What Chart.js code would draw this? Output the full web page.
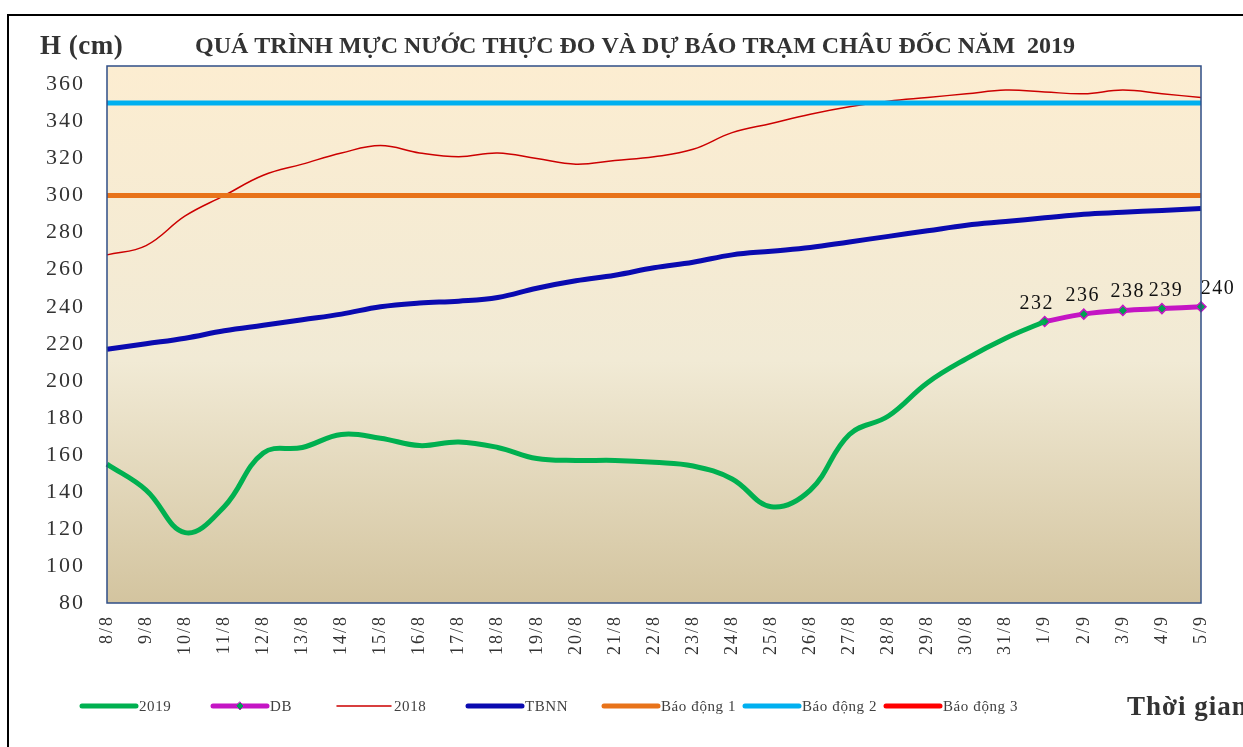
<!DOCTYPE html>
<html>
<head>
<meta charset="utf-8">
<script src="https://cdn.jsdelivr.net/npm/chart.js@4.4.0/dist/chart.umd.min.js"></script>
<style>
  html, body { margin: 0; padding: 0; background: #fff; overflow: hidden; }
</style>
</head>
<body>
<canvas id="myChart" width="1243" height="747"></canvas>
<script>
//////////////////// Data ////////////////////
const dayLabels = ['8/8', '9/8', '10/8', '11/8', '12/8', '13/8', '14/8', '15/8', '16/8', '17/8',
  '18/8', '19/8', '20/8', '21/8', '22/8', '23/8', '24/8', '25/8', '26/8', '27/8', '28/8', '29/8',
  '30/8', '31/8', '1/9', '2/9', '3/9', '4/9', '5/9'];

// measured water level 2019 (cm)
const level2019 = [155, 141, 118, 132, 161, 164, 171, 169, 165, 167, 164, 158, 157,
  157, 156, 154, 147, 132, 141, 171, 181, 199, 212, 223, 232, null, null, null, null];

// forecast (DB)
const forecastDB = [null, null, null, null, null, null, null, null, null, null, null, null, null,
  null, null, null, null, null, null, null, null, null, null, null, 232, 236, 238, 239, 240];

// same period 2018
const level2018 = [268, 273, 289, 300, 311, 317, 323, 327, 323, 321, 323, 320, 317,
  319, 321, 325, 334, 339, 344, 348, 351, 353, 355, 357, 356, 355, 357, 355, 353];

// multi-year average (TBNN)
const levelTBNN = [217, 220, 223, 227, 230, 233, 236, 240, 242, 243, 245, 250, 254,
  257, 261, 264, 268, 270, 272, 275, 278, 281, 284, 286, 288, 290, 291, 292, 293];

// alarm levels 1, 2, 3
const alarmLevels = [300, 350, 400];

// y axis tick labels
const yTicks = [80, 100, 120, 140, 160, 180, 200, 220, 240, 260, 280, 300, 320, 340, 360];
/////////////////////////////////////////////////////////////////////

const serif = '"Liberation Serif", "Times New Roman", serif';
const ctx1 = document.getElementById('myChart').getContext('2d');

const data = {
  labels: dayLabels,
  datasets: [{
    label: '2019',
    data: level2019,
    borderColor: '#00B050',
    borderWidth: 5,
    pointRadius: 0,
    tension: 0.4,
    order: 0
  }, {
    label: 'DB',
    data: forecastDB,
    borderColor: '#C415C4',
    borderWidth: 5,
    pointStyle: 'rectRot',
    pointRadius: 5,
    pointBackgroundColor: '#00A050',
    pointBorderColor: '#C415C4',
    pointBorderWidth: 1.5,
    tension: 0.4,
    order: 0
  }, {
    label: '2018',
    data: level2018,
    borderColor: '#CC0000',
    borderWidth: 1.5,
    pointRadius: 0,
    tension: 0.4,
    order: 3
  }, {
    label: 'TBNN',
    data: levelTBNN,
    borderColor: '#0A0AB0',
    borderWidth: 5,
    pointRadius: 0,
    tension: 0.4,
    order: 1
  }, {
    label: 'Báo động 1',
    data: dayLabels.map(() => alarmLevels[0]),
    borderColor: '#E8731A',
    borderWidth: 5,
    pointRadius: 0,
    order: 1
  }, {
    label: 'Báo động 2',
    data: dayLabels.map(() => alarmLevels[1]),
    borderColor: '#00B0F0',
    borderWidth: 5,
    pointRadius: 0,
    order: 1
  }, {
    label: 'Báo động 3',
    data: dayLabels.map(() => alarmLevels[2]),
    borderColor: '#FF0000',
    borderWidth: 5,
    pointRadius: 0,
    order: 1
  }]
};

///////////// Background, frame, titles, labels, legend ///////////////
const decorations = {
  id: 'decorations',
  beforeDraw(chart) {
    // Excel-like loose letter spacing for the axis labels
    chart.ctx.letterSpacing = '2px';
  },
  beforeDatasetsDraw(chart) {
    const { ctx, chartArea: { left, top, width, height, bottom } } = chart;
    const grad = ctx.createLinearGradient(0, top, 0, bottom);
    grad.addColorStop(0, '#FCEDD1');
    grad.addColorStop(0.55, '#F1EAD5');
    grad.addColorStop(1, '#D3C49F');
    ctx.save();
    ctx.fillStyle = grad;
    ctx.fillRect(left, top, width, height);
    ctx.restore();
  },
  afterDatasetsDraw(chart, args, opts) {
    const { ctx, chartArea: { left, top, width, height } } = chart;
    ctx.save();
    ctx.strokeStyle = '#2F4E87';
    ctx.lineWidth = 1.5;
    ctx.strokeRect(left, top, width, height);

    // forecast value labels
    const meta = chart.getDatasetMeta(1);
    ctx.font = '20px ' + serif;
    ctx.letterSpacing = '1.5px';
    ctx.fillStyle = '#111';
    ctx.textAlign = 'center';
    ctx.textBaseline = 'alphabetic';
    let k = 0;
    meta.data.forEach((pt, i) => {
      const v = forecastDB[i];
      if (v === null) return;
      const dx = opts.labelShift[k] || 0;
      ctx.fillText(String(v), pt.x + dx, pt.y - 13);
      k++;
    });
    ctx.restore();
  },
  afterDraw(chart, args, opts) {
    const { ctx } = chart;
    ctx.save();
    // outer frame
    ctx.strokeStyle = '#000';
    ctx.lineWidth = 2;
    ctx.strokeRect(8, 15, 1400, 900);

    // titles
    ctx.fillStyle = '#333';
    ctx.textBaseline = 'alphabetic';
    ctx.textAlign = 'left';
    ctx.letterSpacing = '0.5px';
    ctx.font = 'bold 27px ' + serif;
    ctx.fillText('H (cm)', 40, 54);

    const title = 'QUÁ TRÌNH MỰC NƯỚC THỰC ĐO VÀ DỰ BÁO TRẠM CHÂU ĐỐC NĂM  2019';
    ctx.font = 'bold 24px ' + serif;
    ctx.letterSpacing = '0px';
    const w = ctx.measureText(title).width;
    ctx.letterSpacing = ((opts.titleWidth - w) / title.length) + 'px';
    ctx.fillText(title, opts.titleX, 53);

    ctx.letterSpacing = '1px';
    ctx.font = 'bold 27px ' + serif;
    ctx.fillText('Thời gian', 1127, 715);

    // legend
    ctx.font = '15px ' + serif;
    ctx.letterSpacing = '0.6px';
    ctx.textBaseline = 'middle';
    const y = 706;
    chart.data.datasets.forEach((ds, i) => {
      const x = opts.legendX[i];
      ctx.strokeStyle = ds.borderColor;
      ctx.lineWidth = ds.borderWidth;
      ctx.lineCap = 'round';
      ctx.beginPath();
      ctx.moveTo(x, y);
      ctx.lineTo(x + 54, y);
      ctx.stroke();
      if (ds.pointStyle === 'rectRot') {
        ctx.fillStyle = ds.pointBackgroundColor;
        ctx.strokeStyle = ds.pointBorderColor;
        ctx.lineWidth = 1;
        ctx.beginPath();
        ctx.moveTo(x + 27, y - 4);
        ctx.lineTo(x + 31, y);
        ctx.lineTo(x + 27, y + 4);
        ctx.lineTo(x + 23, y);
        ctx.closePath();
        ctx.fill();
        ctx.stroke();
      }
      ctx.fillStyle = '#404040';
      ctx.fillText(ds.label, x + 57, y + 1);
    });
    ctx.restore();
  }
};
///////////////////////////////////////////////////////////////////

const config = {
  type: 'line',
  data: data,
  options: {
    responsive: false,
    animation: false,
    spanGaps: false,
    layout: {
      padding: { top: 66, right: 42, bottom: 84, left: 0 }
    },
    plugins: {
      legend: { display: false },
      tooltip: { enabled: false },
      decorations: {
        legendX: [82, 213, 337, 468, 604, 745, 886],
        labelShift: [-8, -1, 5, 4, 17],
        titleX: 195,
        titleWidth: 880
      }
    },
    scales: {
      x: {
        offset: false,
        grid: { display: false, drawTicks: false },
        border: { display: false },
        ticks: {
          minRotation: 90,
          maxRotation: 90,
          autoSkip: false,
          padding: 12,
          color: '#333',
          font: { family: serif, size: 18 }
        },
        afterFit(scale) { scale.height = 60; }
      },
      y: {
        min: 80,
        max: 370,
        grid: { display: false, drawTicks: false },
        border: { display: false },
        ticks: {
          padding: 22,
          color: '#333',
          font: { family: serif, size: 22 }
        },
        afterBuildTicks(scale) { scale.ticks = yTicks.map(v => ({ value: v })); },
        afterFit(scale) { scale.width = 107; }
      }
    }
  },
  plugins: [decorations]
};

const myChart = new Chart(ctx1, config);
</script>
</body>
</html>
